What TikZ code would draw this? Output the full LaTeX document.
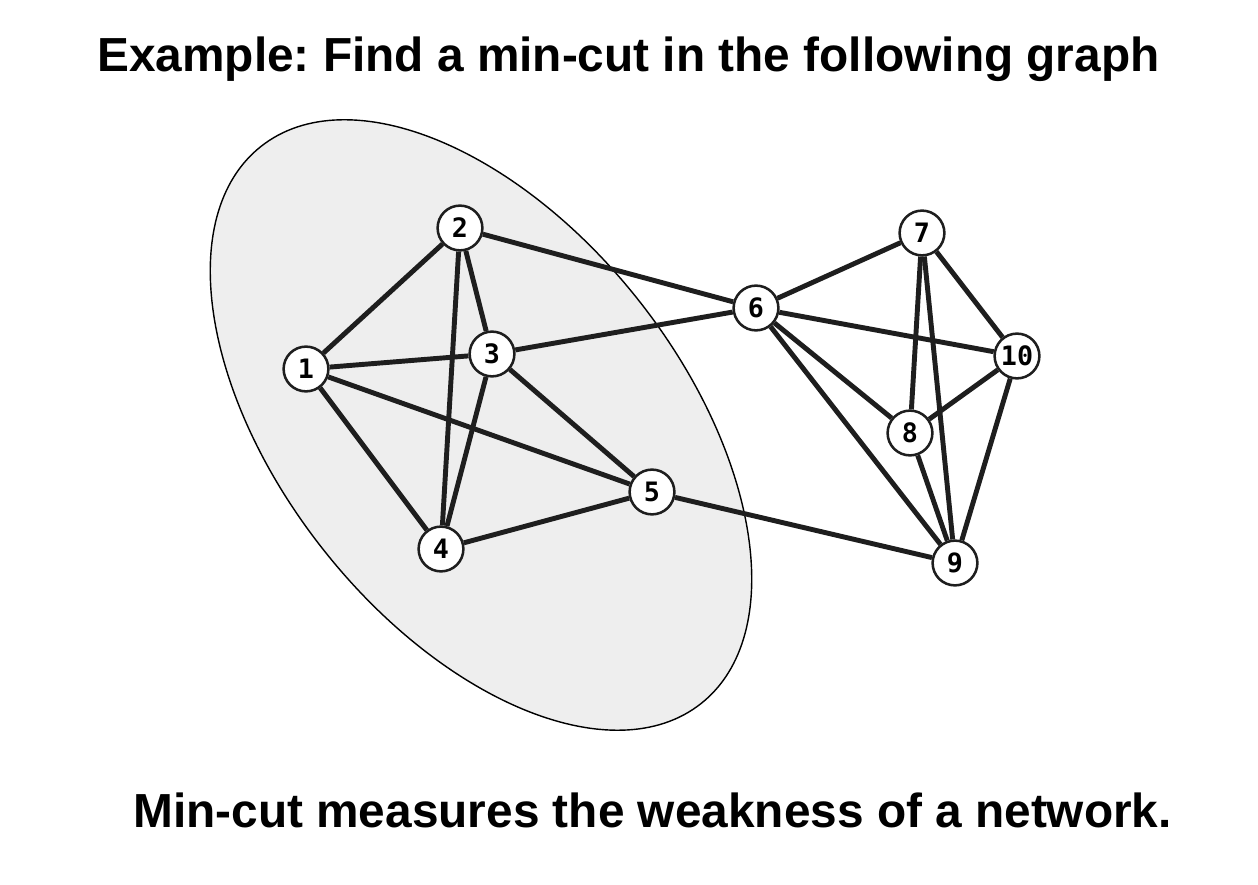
\documentclass[tikz,border=0pt]{standalone}
\usepackage{fontspec}
\setsansfont{Liberation Sans}
\newfontfamily\vertexfont{DejaVu Sans Mono}
\usetikzlibrary{positioning}
\definecolor{cutgray}{RGB}{238,238,238}
\definecolor{edgeblack}{RGB}{30,30,30}
\frenchspacing

\begin{document}
\begin{tikzpicture}[
    vertex/.style={circle, draw=edgeblack, fill=white, line width=1.8pt, minimum size=1.12cm, inner sep=0pt, font=\vertexfont\bfseries\fontsize{19}{19}\selectfont},
    link/.style={draw=edgeblack, line width=3.5pt},
    headline/.style={anchor=base west, inner sep=0pt, font=\sffamily\bfseries\fontsize{34}{38}\selectfont}
]
\useasboundingbox (0,0) rectangle (31.45,22.1);
% the side of the cut
\draw[fill=cutgray, line width=1pt, rotate around={-51.7:(12.025,11.475)}] (12.025,11.475) ellipse [x radius=8.875cm, y radius=5.025cm];

\node[headline] (title) at (2.425,20.3) {Example: Find a min-cut in the following graph};
\node[headline] (remark) at (3.325,1.425) {Min-cut measures the weakness of a network.};

% vertices
\node[vertex] (v1) at (7.65,12.875) {1};
\node[vertex] (v2) at (11.5,16.4) {2};
\node[vertex] (v3) at (12.3,13.25) {3};
\node[vertex] (v4) at (11.025,8.375) {4};
\node[vertex] (v5) at (16.3,9.8) {5};
\node[vertex] (v6) at (18.9,14.4) {6};
\node[vertex] (v7) at (23.05,16.275) {7};
\node[vertex] (v8) at (22.75,11.275) {8};
\node[vertex] (v9) at (23.875,8.025) {9};
\node[vertex] (v10) at (25.425,13.2) {10};

% edges
\draw[link] (v1) -- (v2);
\draw[link] (v1) -- (v3);
\draw[link] (v1) -- (v4);
\draw[link] (v1) -- (v5);
\draw[link] (v2) -- (v3);
\draw[link] (v2) -- (v4);
\draw[link] (v2) -- (v6);
\draw[link] (v3) -- (v4);
\draw[link] (v3) -- (v5);
\draw[link] (v3) -- (v6);
\draw[link] (v4) -- (v5);
\draw[link] (v5) -- (v9);
\draw[link] (v6) -- (v7);
\draw[link] (v6) -- (v8);
\draw[link] (v6) -- (v9);
\draw[link] (v6) -- (v10);
\draw[link] (v7) -- (v8);
\draw[link] (v7) -- (v9);
\draw[link] (v7) -- (v10);
\draw[link] (v8) -- (v9);
\draw[link] (v8) -- (v10);
\draw[link] (v10) -- (v9);
\end{tikzpicture}
\end{document}
